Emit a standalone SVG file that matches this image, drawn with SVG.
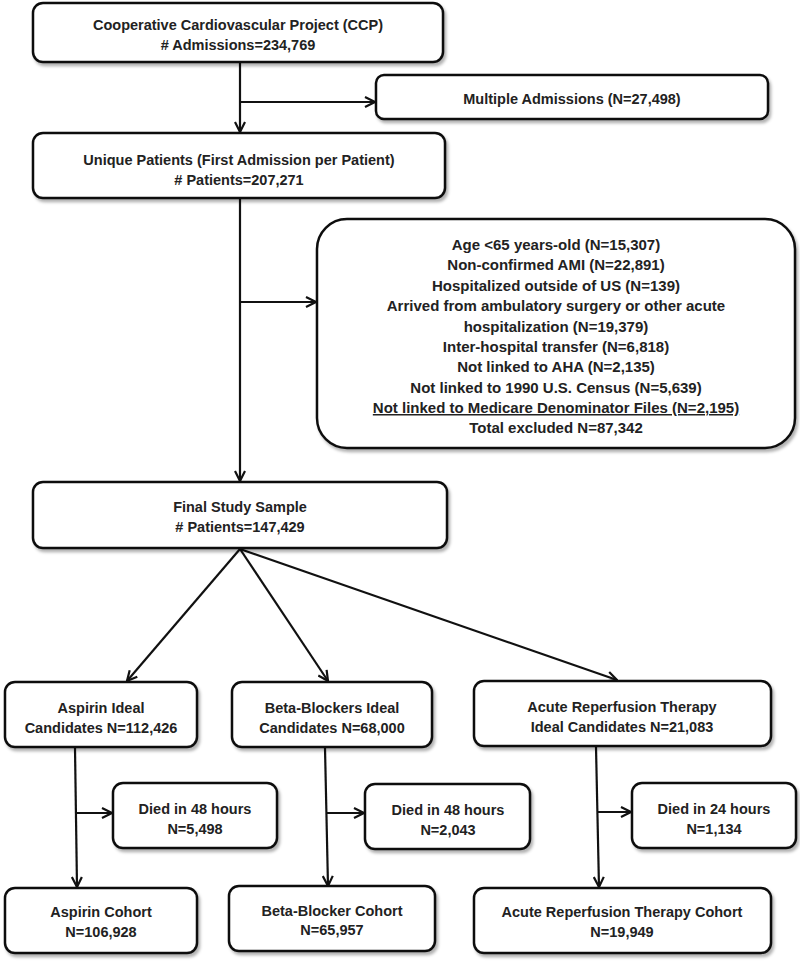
<svg xmlns="http://www.w3.org/2000/svg" width="800" height="962" viewBox="0 0 800 962">
<defs>
<marker id="arr" viewBox="0 0 12 12" refX="11" refY="6" markerWidth="12" markerHeight="12" markerUnits="userSpaceOnUse" orient="auto">
<path d="M1,1 L11,6 L1,11" fill="none" stroke="#111" stroke-width="2.2"/>
</marker>
<filter id="sh" x="-5%" y="-10%" width="115%" height="130%">
<feDropShadow dx="2" dy="3" stdDeviation="1.5" flood-color="#000" flood-opacity="0.3"/>
</filter>
</defs>
<style>
.box{fill:#fff;stroke:#111;stroke-width:2.5;filter:url(#sh)}
.t{font-family:"Liberation Sans",Arial,sans-serif;font-weight:bold;font-size:14.5px;fill:#222;text-anchor:middle}
.e{font-size:15px}
.c{fill:none;stroke:#111;stroke-width:2.2}
</style>
<rect width="800" height="962" fill="#fff"/>
<g id="connectors">
<line class="c" x1="240" y1="62" x2="240" y2="132" marker-end="url(#arr)"/>
<line class="c" x1="240" y1="102" x2="375" y2="102" marker-end="url(#arr)"/>
<line class="c" x1="240" y1="198" x2="240" y2="481" marker-end="url(#arr)"/>
<line class="c" x1="240" y1="302" x2="316" y2="302" marker-end="url(#arr)"/>
<line class="c" x1="240" y1="549" x2="127" y2="681" marker-end="url(#arr)"/>
<line class="c" x1="240" y1="549" x2="328" y2="681" marker-end="url(#arr)"/>
<line class="c" x1="240" y1="549" x2="617" y2="680" marker-end="url(#arr)"/>
<line class="c" x1="75" y1="748" x2="77" y2="887" marker-end="url(#arr)"/>
<line class="c" x1="76" y1="813" x2="112" y2="813" marker-end="url(#arr)"/>
<line class="c" x1="325" y1="748" x2="328" y2="886" marker-end="url(#arr)"/>
<line class="c" x1="326" y1="813" x2="364" y2="813" marker-end="url(#arr)"/>
<line class="c" x1="596" y1="747" x2="599" y2="887" marker-end="url(#arr)"/>
<line class="c" x1="597" y1="812" x2="631" y2="812" marker-end="url(#arr)"/>
</g>
<g id="ccp">
<rect class="box" x="33" y="3" width="410" height="59" rx="10"/>
<text class="t" x="238" y="30">Cooperative Cardiovascular Project (CCP)</text>
<text class="t" x="238" y="50"># Admissions=234,769</text>
</g>
<g id="multiple">
<rect class="box" x="376" y="75" width="392" height="44" rx="8"/>
<text class="t" x="572" y="104">Multiple Admissions (N=27,498)</text>
</g>
<g id="unique">
<rect class="box" x="33" y="133" width="412" height="65" rx="10"/>
<text class="t" x="239" y="165">Unique Patients (First Admission per Patient)</text>
<text class="t" x="239" y="185"># Patients=207,271</text>
</g>
<g id="excluded">
<rect class="box" x="317" y="219" width="478" height="229" rx="30"/>
<text class="t e" x="556" y="250">Age &lt;65 years-old (N=15,307)</text>
<text class="t e" x="556" y="270">Non-confirmed AMI (N=22,891)</text>
<text class="t e" x="556" y="291">Hospitalized outside of US (N=139)</text>
<text class="t e" x="556" y="311">Arrived from ambulatory surgery or other acute</text>
<text class="t e" x="556" y="332">hospitalization (N=19,379)</text>
<text class="t e" x="556" y="352">Inter-hospital transfer (N=6,818)</text>
<text class="t e" x="556" y="372">Not linked to AHA (N=2,135)</text>
<text class="t e" x="556" y="393">Not linked to 1990 U.S. Census (N=5,639)</text>
<text class="t e" x="556" y="413" text-decoration="underline">Not linked to Medicare Denominator Files (N=2,195)</text>
<text class="t e" x="556" y="433">Total excluded N=87,342</text>
</g>
<g id="final">
<rect class="box" x="33" y="482" width="414" height="66" rx="10"/>
<text class="t" x="240" y="512">Final Study Sample</text>
<text class="t" x="240" y="532"># Patients=147,429</text>
</g>
<g id="aspirin-ideal">
<rect class="box" x="5" y="682" width="192" height="65" rx="10"/>
<text class="t" x="101" y="713">Aspirin Ideal</text>
<text class="t" x="101" y="733">Candidates N=112,426</text>
</g>
<g id="beta-ideal">
<rect class="box" x="232" y="682" width="200" height="65" rx="10"/>
<text class="t" x="332" y="713">Beta-Blockers Ideal</text>
<text class="t" x="332" y="733">Candidates N=68,000</text>
</g>
<g id="art-ideal">
<rect class="box" x="474" y="681" width="297" height="65" rx="10"/>
<text class="t" x="622" y="712">Acute Reperfusion Therapy</text>
<text class="t" x="622" y="732">Ideal Candidates N=21,083</text>
</g>
<g id="died-aspirin">
<rect class="box" x="113" y="783" width="164" height="65" rx="10"/>
<text class="t" x="195" y="814">Died in 48 hours</text>
<text class="t" x="195" y="834">N=5,498</text>
</g>
<g id="died-beta">
<rect class="box" x="365" y="784" width="165" height="65" rx="10"/>
<text class="t" x="448" y="815">Died in 48 hours</text>
<text class="t" x="448" y="835">N=2,043</text>
</g>
<g id="died-art">
<rect class="box" x="632" y="783" width="164" height="65" rx="10"/>
<text class="t" x="714" y="814">Died in 24 hours</text>
<text class="t" x="714" y="834">N=1,134</text>
</g>
<g id="aspirin-cohort">
<rect class="box" x="5" y="888" width="192" height="65" rx="10"/>
<text class="t" x="101" y="917">Aspirin Cohort</text>
<text class="t" x="101" y="937">N=106,928</text>
</g>
<g id="beta-cohort">
<rect class="box" x="229" y="886" width="206" height="65" rx="10"/>
<text class="t" x="332" y="916">Beta-Blocker Cohort</text>
<text class="t" x="332" y="935">N=65,957</text>
</g>
<g id="art-cohort">
<rect class="box" x="474" y="888" width="297" height="65" rx="10"/>
<text class="t" x="622" y="917">Acute Reperfusion Therapy Cohort</text>
<text class="t" x="622" y="937">N=19,949</text>
</g>
</svg>
